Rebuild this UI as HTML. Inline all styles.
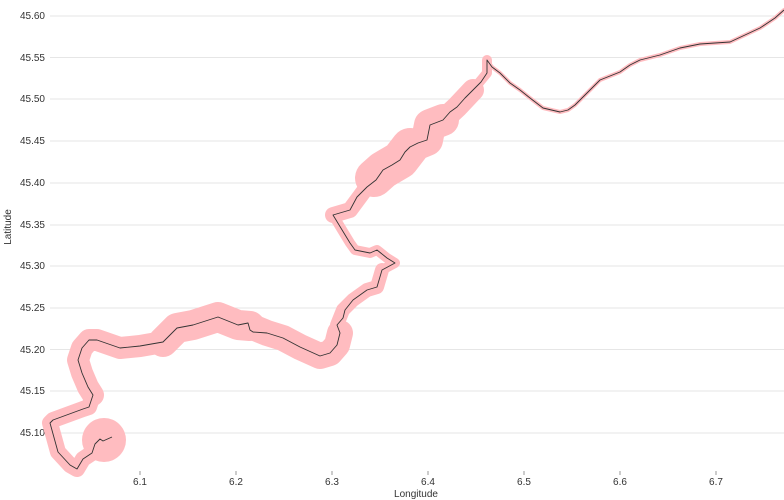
<!DOCTYPE html>
<html><head><style>
body{margin:0;background:#fff;}
svg{display:block;font-family:"Liberation Sans",sans-serif;}
</style></head><body>
<svg width="784" height="500" viewBox="0 0 784 500">
<g stroke="#e6e6e6" stroke-width="1">
<line x1="50" x2="784" y1="16" y2="16"/><line x1="50" x2="784" y1="57.5" y2="57.5"/><line x1="50" x2="784" y1="99" y2="99"/><line x1="50" x2="784" y1="141" y2="141"/><line x1="50" x2="784" y1="183" y2="183"/><line x1="50" x2="784" y1="225" y2="225"/><line x1="50" x2="784" y1="266" y2="266"/><line x1="50" x2="784" y1="308" y2="308"/><line x1="50" x2="784" y1="349.5" y2="349.5"/><line x1="50" x2="784" y1="391" y2="391"/><line x1="50" x2="784" y1="433" y2="433"/>
</g>
<g font-size="10" fill="#333" text-anchor="end">
<text x="45" y="19">45.60</text><text x="45" y="61">45.55</text><text x="45" y="102">45.50</text><text x="45" y="144">45.45</text><text x="45" y="186">45.40</text><text x="45" y="228">45.35</text><text x="45" y="269">45.30</text><text x="45" y="311">45.25</text><text x="45" y="353">45.20</text><text x="45" y="394">45.15</text><text x="45" y="436">45.10</text>
</g>
<g stroke="#999" stroke-width="1"><line x1="140" x2="140" y1="471" y2="475"/><line x1="236" x2="236" y1="471" y2="475"/><line x1="332" x2="332" y1="471" y2="475"/><line x1="428" x2="428" y1="471" y2="475"/><line x1="524" x2="524" y1="471" y2="475"/><line x1="620" x2="620" y1="471" y2="475"/><line x1="716" x2="716" y1="471" y2="475"/></g>
<g font-size="10" fill="#333" text-anchor="middle">
<text x="140" y="485">6.1</text><text x="236" y="485">6.2</text><text x="332" y="485">6.3</text><text x="428" y="485">6.4</text><text x="524" y="485">6.5</text><text x="620" y="485">6.6</text><text x="716" y="485">6.7</text>
<text x="416" y="497">Longitude</text>
<text transform="translate(11,227) rotate(-90)">Latitude</text>
</g>
<g fill="none" stroke="#ffbcc0" stroke-linecap="round" stroke-linejoin="round">
<circle cx="104" cy="440" r="22" fill="#ffbcc0" stroke="none"/>
<polyline stroke-width="16" points="92,453 83,459 77,469 70,465 58,452 50,423 53,420 83,409 89,407 93,395"/>
<polyline stroke-width="22" points="93,395 88,387 82,373 78,360 82,348 89,340 97,340 120,348 140,346 163,342"/>
<polyline stroke-width="30" points="163,342 177,328 193,325 218,317 238,325 250,326"/>
<polyline stroke-width="26" points="250,326 267,333 283,338 300,347 320,356 330,353 337,345 340,333"/>
<polyline stroke-width="14" points="340,333 337,325 343,310 353,300 367,290 377,287 382,270"/>
<polyline stroke-width="10" points="382,270 395,263 387,258 377,250 370,253 355,250 350,243 333,215"/>
<polyline stroke-width="16" points="333,215 350,210 367,187"/>
<polyline stroke-width="38" points="374,178 383,170 400,160 410,147"/>
<polyline stroke-width="32" points="410,147 427,140 430,125 443,120"/>
<polyline stroke-width="22" points="443,120 457,107 473,90"/>
<polyline stroke-width="10" points="473,90 487,73 487,60"/>
<polyline stroke-width="4" points="487,60 492,67 500,73 510,83 520,90 530,98 543,108 560,112 568,110 575,105 590,90 600,80 620,72 630,65 640,60 660,55 680,48 700,44 730,42 745,35 760,28 775,18 784,10"/>
</g>
<polyline fill="none" stroke="#333" stroke-width="0.9" stroke-linejoin="round" points="112,437 103,441 100,439 95,444 92,453 83,459 77,469 70,465 58,452 50,423 53,420 83,409 89,407 93,395 88,387 82,373 78,360 82,348 89,340 97,340 120,348 140,346 163,342 177,328 193,325 218,317 238,325 248,323 250,330 253,332 267,333 283,338 300,347 320,356 330,353 337,345 340,333 337,325 343,318 345,310 353,300 367,290 377,287 382,270 395,263 387,258 377,250 370,253 355,250 350,243 333,215 350,210 357,197 367,187 376,180 383,170 392,165 400,160 405,152 410,147 418,143 427,140 430,125 443,120 450,112 457,107 465,98 473,90 481,82 487,73 487,60 492,67 500,73 510,83 520,90 530,98 543,108 560,112 568,110 575,105 590,90 600,80 620,72 630,65 640,60 660,55 680,48 700,44 730,42 745,35 760,28 775,18 784,10"/>
</svg>
</body></html>
